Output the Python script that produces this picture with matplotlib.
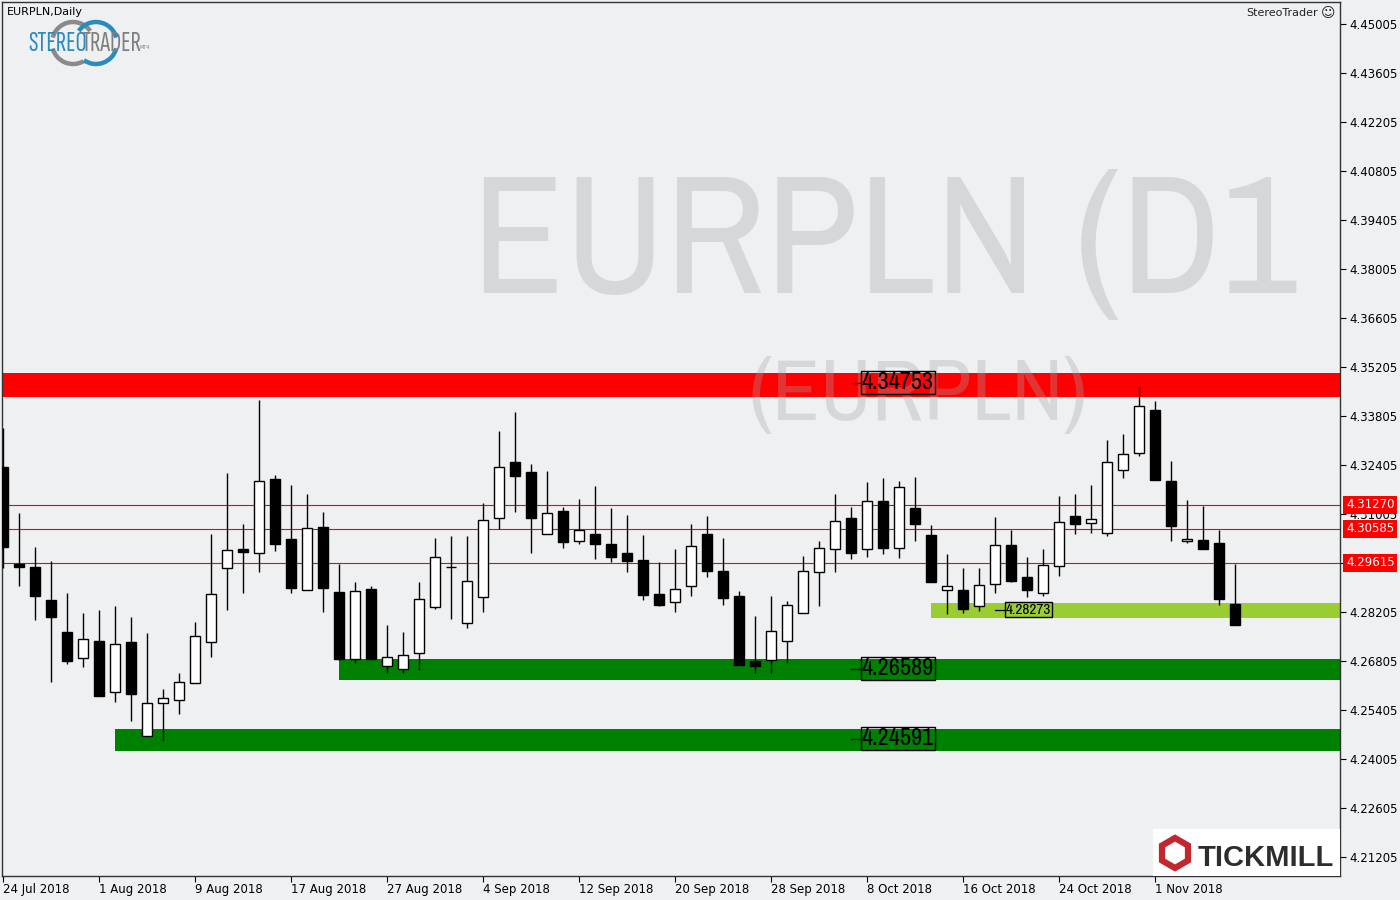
import matplotlib
matplotlib.use("Agg")
import matplotlib.pyplot as plt
import numpy as np
import pandas as pd
from matplotlib import font_manager as fm
from matplotlib.patches import Rectangle, Arc, RegularPolygon
from matplotlib.transforms import Affine2D, blended_transform_factory

# ---------------- data ----------------
symbol_title = "EURPLN,Daily"
watermark_main = "EURPLN (D1"
watermark_sub = "(EURPLN)"
dates = pd.bdate_range("2018-07-24", periods=78)

opens = [4.32340, 4.29585, 4.29491, 4.28548, 4.27634, 4.26882, 4.27377, 4.25911, 4.27348, 4.24654,
         4.25597, 4.25682, 4.26168, 4.27340, 4.29454, 4.30005, 4.29882, 4.32005, 4.30291, 4.28825,
         4.30634, 4.28777, 4.26854, 4.28862, 4.26654, 4.26568, 4.27025, 4.28340, 4.29482, 4.27882,
         4.28625, 4.30882, 4.32491, 4.32205, 4.30425, 4.31091, 4.30225, 4.30434, 4.30148, 4.29891,
         4.29691, 4.28720, 4.28482, 4.28940, 4.30434, 4.29377, 4.28662, 4.26805, 4.26825, 4.27368,
         4.28168, 4.29340, 4.29997, 4.30891, 4.29997, 4.31377, 4.30025, 4.31177, 4.30405, 4.28825,
         4.28825, 4.28368, 4.28997, 4.30111, 4.29197, 4.28740, 4.29511, 4.30940, 4.30740, 4.30454,
         4.32254, 4.32740, 4.33968, 4.31948, 4.30225, 4.30254, 4.30177, 4.28434]
highs = [4.33454, 4.31034, 4.30062, 4.29662, 4.28748, 4.28177, 4.28262, 4.28377, 4.28062, 4.27605,
         4.26005, 4.26462, 4.27920, 4.30434, 4.32177, 4.30720, 4.34262, 4.32120, 4.31834, 4.31577,
         4.31062, 4.29585, 4.29062, 4.28948, 4.27834, 4.27634, 4.29062, 4.30320, 4.30377, 4.30377,
         4.31320, 4.33377, 4.33920, 4.32434, 4.32234, 4.31205, 4.31434, 4.31805, 4.31177, 4.30977,
         4.30405, 4.29634, 4.30005, 4.30720, 4.30948, 4.30320, 4.28805, 4.28091, 4.28662, 4.28520,
         4.29805, 4.30234, 4.31577, 4.31205, 4.31920, 4.32034, 4.31948, 4.32062, 4.30691, 4.29862,
         4.29454, 4.29454, 4.30920, 4.30548, 4.29777, 4.29997, 4.31520, 4.31577, 4.31825, 4.33111,
         4.33291, 4.34634, 4.34225, 4.32520, 4.31405, 4.31234, 4.30548, 4.29585]
lows = [4.29471, 4.28957, 4.27985, 4.26214, 4.26728, 4.26642, 4.25814, 4.25642, 4.25100, 4.24654,
        4.24528, 4.25300, 4.26168, 4.26928, 4.28271, 4.28757, 4.29357, 4.29957, 4.28757, 4.28825,
        4.28214, 4.26834, 4.26757, 4.26871, 4.26471, 4.26471, 4.26557, 4.28300, 4.28014, 4.27757,
        4.28214, 4.30577, 4.31071, 4.29900, 4.30425, 4.30042, 4.30157, 4.29728, 4.29642, 4.29357,
        4.28557, 4.28385, 4.28214, 4.28671, 4.29214, 4.28414, 4.26700, 4.26471, 4.26471, 4.26757,
        4.28168, 4.28385, 4.29357, 4.29728, 4.29785, 4.29871, 4.29757, 4.30242, 4.29054, 4.28157,
        4.28185, 4.28242, 4.28757, 4.29071, 4.28642, 4.28671, 4.29242, 4.30442, 4.30471, 4.30385,
        4.32034, 4.32654, 4.31985, 4.30242, 4.30168, 4.30014, 4.28414, 4.27842]
closes = [4.30071, 4.29500, 4.28671, 4.28071, 4.26814, 4.27425, 4.25814, 4.27282, 4.25854, 4.25597,
          4.25740, 4.26197, 4.27511, 4.28711, 4.29968, 4.29928, 4.31940, 4.30157, 4.28900, 4.30597,
          4.28900, 4.26871, 4.28805, 4.26871, 4.26911, 4.26968, 4.28568, 4.29768, 4.29482, 4.29082,
          4.30825, 4.32340, 4.32100, 4.30900, 4.31025, 4.30214, 4.30548, 4.30157, 4.29785, 4.29671,
          4.28700, 4.28414, 4.28854, 4.30082, 4.29385, 4.28614, 4.26700, 4.26671, 4.27662, 4.28397,
          4.29377, 4.30025, 4.30797, 4.29900, 4.31368, 4.30042, 4.31768, 4.30728, 4.29054, 4.28940,
          4.28300, 4.28968, 4.30111, 4.29100, 4.28842, 4.29540, 4.30768, 4.30711, 4.30854, 4.32482,
          4.32711, 4.34082, 4.31985, 4.30671, 4.30282, 4.30014, 4.28585, 4.27842]

# horizontal price lines (red) with right-axis tags
line_levels = [4.31270, 4.30585, 4.29615]
line_labels = ["4.31270", "4.30585", "4.29615"]

# support / resistance zones
zone_values = [4.34753, 4.26589, 4.24591, 4.28273]
zone_labels = ["4.34753", "4.26589", "4.24591", "4.28273"]
zone_tops = [4.35042, 4.26863, 4.24862, 4.28462]
zone_bottoms = [4.34357, 4.26262, 4.24242, 4.28025]
zone_start_bar = [None, 21, 7, 58]
zone_label_bar = [53, 53, 53, 62]
zone_colors = ["#ff0000", "#008000", "#008000", "#9acd32"]

ytick_values = [4.45005, 4.43605, 4.42205, 4.40805, 4.39405, 4.38005, 4.36605, 4.35205, 4.33805,
                4.32405, 4.31005, 4.29605, 4.28205, 4.26805, 4.25405, 4.24005, 4.22605, 4.21205]

# ---------------- fonts ----------------
avail = {f.name for f in fm.fontManager.ttflist}


def pick(*cands):
    for c in cands:
        if c in avail:
            return c
    return "DejaVu Sans"


narrow = pick("Liberation Sans Narrow", "Arial Narrow", "Archivo Narrow", "PT Sans Narrow",
              "Roboto Condensed", "Open Sans Condensed", "Sofia Sans Condensed")
logo_font = pick("Sofia Sans Extra Condensed", "Saira ExtraCondensed", "Oswald", "Roboto Condensed", narrow)
bold_font = pick("Liberation Sans", "Arimo", "DejaVu Sans")

plt.rcParams["font.family"] = ["DejaVu Sans"]

BG = "#eff0f2"
W, H = 1400, 900
fig = plt.figure(figsize=(14, 9), dpi=100, facecolor=BG)
ax = fig.add_axes([2 / W, 24 / H, 1338 / W, 874 / H], facecolor=BG)

# pixel transform (x from left, y from top)
pix = Affine2D().scale(1 / W, -1 / H).translate(0, 1) + fig.transFigure

n = len(opens)
xs = np.arange(n)
x_min, x_max = -1 / 16, -1 / 16 + 1338 / 16
y_lo, y_hi = 4.45691 - 876 / 3500, 4.45691 - 2 / 3500
ax.set_xlim(x_min, x_max)
ax.set_ylim(y_lo, y_hi)

# zones
for top, bot, sb, col in zip(zone_tops, zone_bottoms, zone_start_bar, zone_colors):
    x0 = x_min if sb is None else sb
    ax.add_patch(Rectangle((x0, bot), x_max - x0, top - bot, facecolor=col, edgecolor="none", zorder=1))

# watermark
ax.text(472, 293, watermark_main, transform=pix, fontsize=122, family=[narrow, "DejaVu Sans"],
        color="#a4a4a4", alpha=0.32, ha="left", va="baseline", zorder=1.5, clip_on=False)
ax.text(749, 420, watermark_sub, transform=pix, fontsize=63, family=[narrow, "DejaVu Sans"],
        color="#a4a4a4", alpha=0.32, ha="left", va="baseline", zorder=1.5, clip_on=False)

# red lines
for lv in line_levels:
    ax.axhline(lv, color="#ff0000", lw=0.8, zorder=2)

# candles
bw = 0.64
for x, o, h, l, c in zip(xs, opens, highs, lows, closes):
    ax.vlines(x, l, h, color="black", lw=1.0, zorder=3)
    up = c >= o
    ax.add_patch(Rectangle((x - bw / 2, min(o, c)), bw, abs(c - o),
                           facecolor="white" if up else "black", edgecolor="black",
                           lw=1.0, zorder=4))

# zone labels
for val, lab, lb in zip(zone_values, zone_labels, zone_label_bar):
    big = lb != 62
    ax.plot([lb, lb + 10 / 16], [val, val], color="black", lw=0.9, zorder=5)
    ax.text(lb + 10 / 16 + 0.05, val, lab, fontsize=17.5 if big else 11, family=[narrow, "DejaVu Sans"],
            color="black", ha="left", va="center", zorder=6,
            bbox=dict(boxstyle="square,pad=0.04", facecolor="none", edgecolor="black", lw=1.0))

# axes styling
for s in ax.spines.values():
    s.set_color("#333333")
    s.set_linewidth(1.0)
ax.yaxis.tick_right()
ax.set_yticks(ytick_values)
ax.set_yticklabels([f"{v:.5f}" for v in ytick_values])
tick_idx = list(range(0, n, 6))
ax.set_xticks(tick_idx)
ax.set_xticklabels([dates[i].strftime("%-d %b %Y") for i in tick_idx], ha="left")
ax.tick_params(axis="y", direction="out", length=4, width=0.8, pad=2.5, labelsize=8.5, colors="black")
ax.tick_params(axis="x", direction="out", length=4, width=0.8, pad=1.0, labelsize=8.5, colors="black")

# red tags on right axis
tr = blended_transform_factory(ax.transAxes, ax.transData)
for lv, lab in zip(line_levels, line_labels):
    ax.text(1.0045, lv, lab, transform=tr, fontsize=8.5, color="white", ha="left", va="center",
            zorder=10, clip_on=False,
            bbox=dict(boxstyle="square,pad=0.22", facecolor="#ff0000", edgecolor="none"))

# top-left title and logo
fig.text(7, 12, symbol_title, transform=pix, fontsize=8, color="black", ha="left", va="center")
for (cx, cy), col, spans in [((73, 43), "#8a8a8a", [(35, 165), (195, 300)]),
                              ((96, 43), "#2a8cbe", [(15, 145), (235, 345)])]:
    for a1, a2 in spans:
        fig.add_artist(Arc((cx, cy), 42, 42, theta1=-a2, theta2=-a1, transform=pix,
                           color=col, lw=3.2))
fig.text(28, 51, "STEREO", transform=pix, fontsize=20, family=[logo_font, "DejaVu Sans"],
         fontweight="bold", color="#2a8cbe", ha="left", va="baseline")
fig.text(82, 51, "TRADER", transform=pix, fontsize=20, family=[logo_font, "DejaVu Sans"],
         fontweight="bold", color="#7f7f7f", ha="left", va="baseline")
fig.text(140, 49, "MT4", transform=pix, fontsize=3.5, color="#7f7f7f", ha="left", va="baseline")

# top-right brand
fig.text(1318, 13, "StereoTrader", transform=pix, fontsize=8, color="#222222", ha="right", va="center")
fig.text(1321, 13, "\u263A", transform=pix, fontsize=10, color="#222222", ha="left", va="center")

# Tickmill logo box
fig.add_artist(Rectangle((1153, 829), 187, 47, transform=pix, facecolor="white", edgecolor="none"))
fig.add_artist(RegularPolygon((1175, 853), numVertices=6, radius=15, orientation=0, transform=pix,
                              facecolor="none", edgecolor="#c1272d", lw=4.5))
fig.text(1198, 866, "TICKMILL", transform=pix, fontsize=21, family=[bold_font, "DejaVu Sans"],
         fontweight="bold", color="#2d2d2d", ha="left", va="baseline")

fig.savefig("out.png", dpi=100, facecolor=BG)
